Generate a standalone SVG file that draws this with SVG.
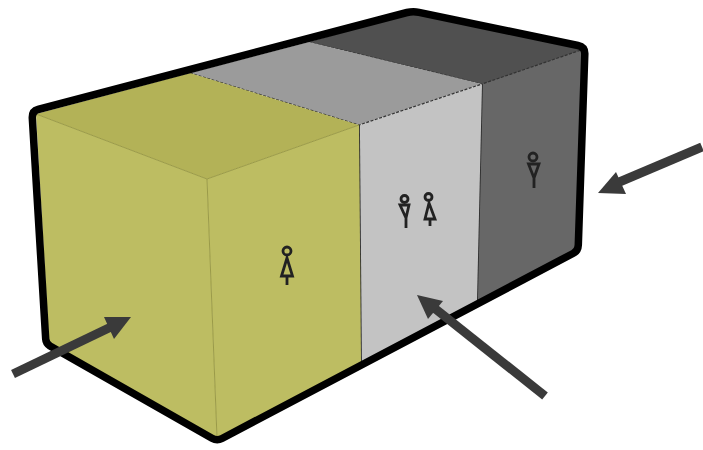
<svg xmlns="http://www.w3.org/2000/svg" width="703" height="450" viewBox="0 0 703 450">
<style>
.outline{fill:none;stroke:#000;stroke-width:7.500;stroke-linejoin:round}
.edge{fill:none;stroke:#333;stroke-width:1.200;stroke-dasharray:3 1.500}
.soft{fill:none;stroke:#9a9a48;stroke-width:1}
.solid{fill:none;stroke:#2e2e2e;stroke-width:1.800}
.icon{fill:none;stroke:#222;stroke-width:2.800;stroke-linejoin:miter}
.shaft{stroke:#3a3a3a;stroke-width:9;fill:none}
.head{fill:#3a3a3a}
</style>
<rect width="703" height="450" fill="#fff"/>
<g id="block-grey-dark">
<path d="M309 42L413 13L584 49L577 250L477 301L482 84Z" fill="#676767"/>
<path d="M309 42L413 13L584 49L482 84Z" fill="#505050"/>
<path class="edge" d="M309 42L482 84L584 49"/>
<path class="solid" d="M482 84L477 301"/>
</g>
<g id="block-grey-light">
<path d="M190 73L309 42L482 84L359 125Z" fill="#9b9b9b"/>
<path d="M359 125L482 84L477 301L361 362Z" fill="#c3c3c3"/>
<path class="edge" d="M190 73L359 125L482 84"/>
<path class="solid" d="M359 125L361 362"/>
</g>
<g id="block-yellow">
<path d="M36 114L190 73L359 125L207 179Z" fill="#b3b257"/>
<path d="M36 114L207 179L217 438L49 342Z" fill="#bdbd62"/>
<path d="M207 179L359 125L361 362L217 438Z" fill="#bdbd62"/>
<path class="soft" d="M36 114L207 179L359 125M207 179L217 438"/>
</g>
<g id="outline">
<path class="outline" d="M38 109.500L407 12.500Q413 11 419 12.300L578 45.500Q585 47 584.800 54L578.300 245Q578 251 573 253.500L222 438.500Q217 441 212 438.200L50 346Q46 343.500 45.700 339L32.300 118Q32 111 38 109.500Z"/>
</g>
<g id="icon-woman-yellow">
<circle class="icon" cx="287" cy="251" r="4"/>
<path class="icon" d="M287 258L281.500 276H292.500ZM287 276V285"/>
</g>
<g id="icon-man-light">
<circle class="icon" cx="404.500" cy="199" r="3.500"/>
<path class="icon" d="M400 205H409L406 218ZM406 218V228" />
</g>
<g id="icon-woman-light">
<circle class="icon" cx="428.500" cy="197" r="3.500"/>
<path class="icon" d="M429 203L425 219H435ZM430 219V226"/>
</g>
<g id="icon-man-dark">
<circle class="icon" cx="533" cy="157" r="4"/>
<path class="icon" d="M528.500 164H539L534 178ZM534 178V188"/>
</g>
<g id="connectors">
<path class="shaft" d="M13 374L113 326"/>
<path class="head" d="M131 317L104 317L114 339Z"/>
<path class="shaft" d="M545 396L433 307"/>
<path class="head" d="M417 295L443 301L428 319Z"/>
<path class="shaft" d="M702 147L617 183"/>
<path class="head" d="M598 193L616 172L626 194Z"/>
</g>
</svg>
